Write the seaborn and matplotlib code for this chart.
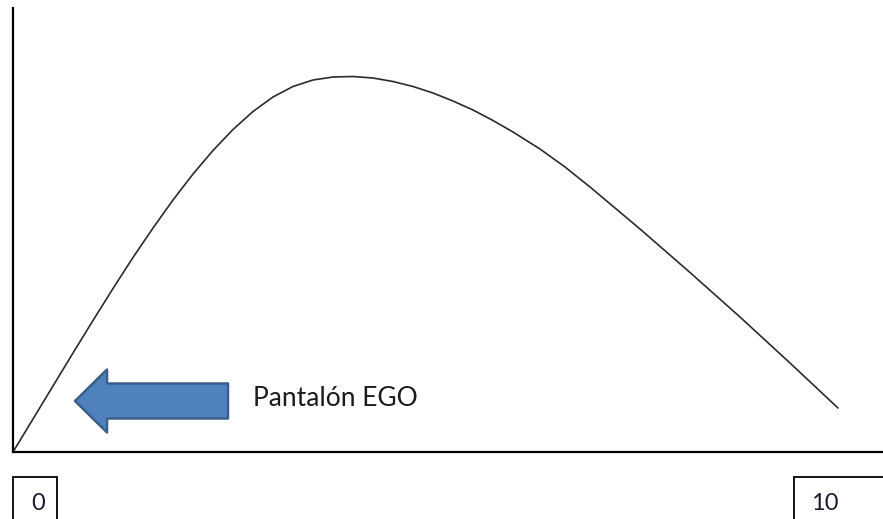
import matplotlib
matplotlib.use("Agg")
import matplotlib.pyplot as plt
import matplotlib.patches as mpatches
import seaborn as sns

# curve (x: 0..10, y: peak ~ 10)
curva_x = [0.0, 0.2424, 0.4848, 0.7273, 0.9697, 1.2121, 1.4545, 1.6970,
           1.9394, 2.1818, 2.4242, 2.6667, 2.9091, 3.1515, 3.3939, 3.6364,
           3.8788, 4.1212, 4.3636, 4.6061, 4.8485, 5.0909, 5.3333, 5.5758,
           5.8182, 6.0606, 6.3879, 6.6909, 6.9939, 7.6, 8.2061, 8.8121,
           9.4182, 10.0]
curva_y = [0.0, 0.88, 1.76, 2.64, 3.507, 4.36, 5.187, 5.973,
           6.72, 7.413, 8.04, 8.6, 9.08, 9.467, 9.747, 9.92,
           10.0, 10.013, 9.973, 9.88, 9.747, 9.573, 9.36, 9.12,
           8.84, 8.533, 8.08, 7.6, 7.067, 5.947, 4.787, 3.6,
           2.373, 1.173]

rotulo_seta = "Pantalón EGO"
rotulos_eixo = ["0", "10"]

sns.set_style("white")
plt.rcParams["font.family"] = ["Lato", "DejaVu Sans"]

W, H = 883, 519
fig = plt.figure(figsize=(W / 100, H / 100), dpi=100)
# eixos em pixels: esquerda 13, base 452, topo 8
ax = fig.add_axes([13 / W, (H - 452) / H, (W - 13) / W, (452 - 8) / H])
ax.set_xlim(0, (W - 13) / 82.5)
ax.set_ylim(0, (452 - 8) / 37.5)

sns.lineplot(x=curva_x, y=curva_y, ax=ax, color="#2b2b2b", lw=1.2,
             sort=False, estimator=None)

for lado in ["top", "right"]:
    ax.spines[lado].set_visible(False)
for lado in ["left", "bottom"]:
    ax.spines[lado].set_color("black")
    ax.spines[lado].set_linewidth(1.6)
ax.set_xticks([])
ax.set_yticks([])

# seta azul
seta = mpatches.FancyArrow(
    2.606, 1.36, -1.854, 0, width=0.933, head_width=1.68, head_length=0.388,
    length_includes_head=True, facecolor="#4F81BD", edgecolor="#3A5F8B",
    lw=1.8, joinstyle="round", clip_on=False,
)
ax.add_patch(seta)
ax.text(2.909, 1.44, rotulo_seta, ha="left", va="center", fontsize=19,
        color="#1a1a1a")

# caixas dos rótulos 0 e 10
caixa0 = mpatches.Rectangle((0, -2.2), 0.533, 2.2 - 0.667, fill=False,
                            edgecolor="black", lw=1.3, clip_on=False)
caixa10 = mpatches.Rectangle((9.467, -2.2), 1.5, 2.2 - 0.667, fill=False,
                             edgecolor="black", lw=1.3, clip_on=False)
ax.add_patch(caixa0)
ax.add_patch(caixa10)
ax.text(0.303, -1.36, rotulos_eixo[0], ha="center", va="center", fontsize=17,
        color="#1a1a33")
ax.text(9.84, -1.36, rotulos_eixo[1], ha="center", va="center", fontsize=17,
        color="#1a1a33")

fig.savefig("out.png", dpi=100)
